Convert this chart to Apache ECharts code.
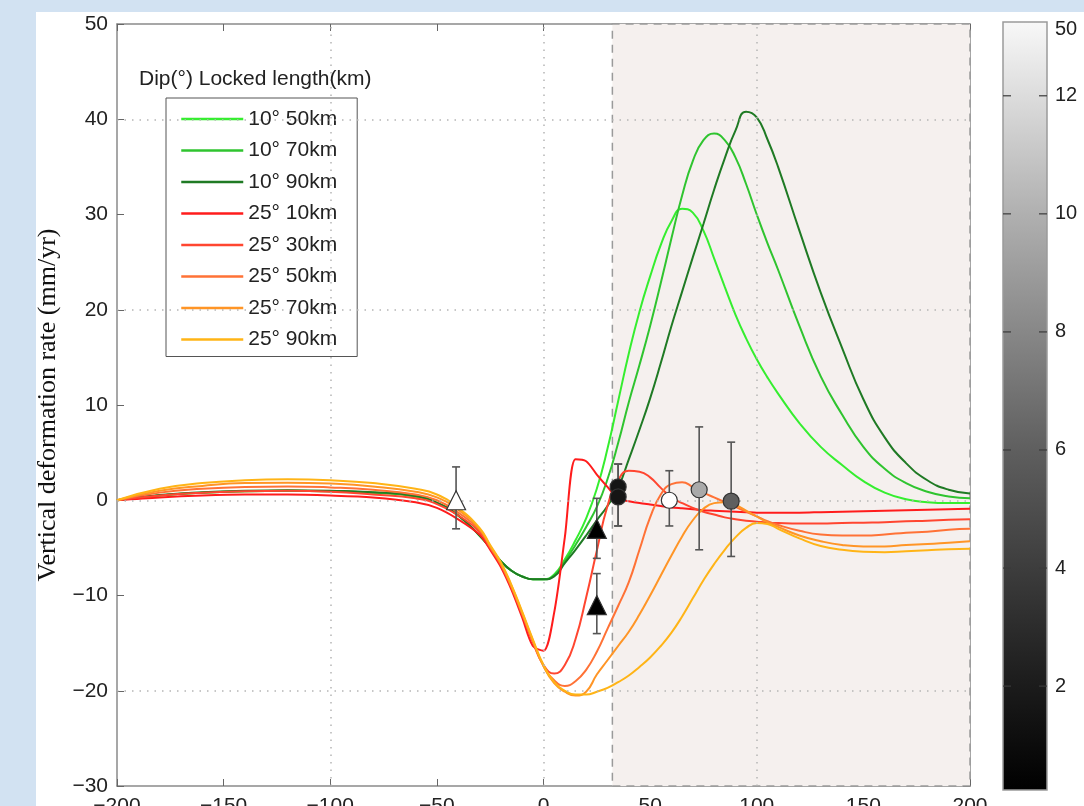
<!DOCTYPE html>
<html>
<head>
<meta charset="utf-8">
<title>Vertical deformation rate</title>
<script src="https://cdn.jsdelivr.net/npm/echarts@6.0.0/dist/echarts.min.js"></script>
<style>
  html, body { margin: 0; padding: 0; background: #d2e2f2; }
  #paper { position: absolute; left: 36px; top: 12px; width: 1048px; height: 794px; background: #fff; }
  #chart { position: absolute; left: 0; top: 0; width: 1084px; height: 806px; }
</style>
</head>
<body>
<div id="paper"></div>
<div id="chart"></div>
<script>
// distance along profile (km), shared by all model curves
const xKm = [-200, -180, -160, -140, -120, -100, -80, -60, -50, -40, -30, -25, -20, -15, -10, -5, 0,
  5, 10, 15, 20, 25, 30, 35, 40, 45, 50, 55, 60, 65, 70, 75, 80, 85, 90, 95, 100, 105, 110,
  120, 130, 140, 150, 160, 170, 180, 190, 200];

// model curves (mm/yr), dip 10°
const g10_50 = [0, 0.5, 0.8, 0.95, 1.0, 0.95, 0.8, 0.4, -0.3, -1.6, -3.7, -5.0, -6.4, -7.4, -8.0, -8.3, -8.3,
  -7.8, -6.2, -4.2, -1.9, 1.2, 5.4, 10.4, 15.4, 19.8, 23.5, 26.8, 29.3, 30.6, 30.2, 28.3, 25.4, 22.4, 19.5, 17.0, 14.8, 12.9, 11.2,
  8.1, 5.6, 3.7, 2.0, 0.8, 0.1, -0.2, -0.3, -0.3];
const g10_70 = [0, 0.5, 0.8, 0.95, 1.0, 0.95, 0.8, 0.4, -0.3, -1.6, -3.7, -5.0, -6.4, -7.4, -8.0, -8.3, -8.3,
  -7.9, -6.4, -4.7, -2.8, -0.7, 2.2, 6.0, 10.3, 14.2, 18.3, 22.8, 27.5, 32.0, 35.6, 37.8, 38.5, 37.8, 36.0, 33.2, 30.0, 27.0, 24.2,
  18.3, 13.0, 9.0, 5.6, 3.3, 1.8, 0.9, 0.4, 0.2];
const g10_90 = [0, 0.55, 0.85, 1.0, 1.05, 1.0, 0.85, 0.45, -0.25, -1.6, -3.7, -5.0, -6.4, -7.4, -8.0, -8.3, -8.3,
  -8.0, -6.6, -5.2, -3.7, -2.1, -0.6, 1.3, 4.3, 7.4, 10.7, 14.4, 18.3, 21.9, 25.5, 29.0, 32.6, 35.9, 38.8, 40.8, 40.2, 37.9, 35.0,
  28.3, 21.8, 16.0, 10.6, 6.6, 3.9, 2.1, 1.1, 0.7];

// model curves (mm/yr), dip 25°
const r25_10 = [0, 0.3, 0.5, 0.6, 0.6, 0.5, 0.3, -0.2, -0.8, -2.0, -3.6, -5.2, -7.0, -9.4, -12.3, -15.3, -15.8,
  -11.8, -3.9, 4.3, 4.1, 2.7, 1.4, 0.15, -0.1, -0.3, -0.45, -0.6, -0.75, -0.85, -0.95, -1.05, -1.1, -1.15, -1.2, -1.25, -1.3, -1.3, -1.3,
  -1.3, -1.25, -1.2, -1.15, -1.1, -1.05, -1.0, -0.95, -0.9];
const r25_30 = [0, 0.5, 0.8, 0.95, 1.0, 0.9, 0.6, 0.2, -0.4, -1.6, -3.3, -5.0, -6.8, -9.2, -12.0, -14.9, -17.3,
  -18.2, -17.3, -14.6, -10.2, -5.3, -0.6, 2.1, 3.1, 3.0, 2.4, 1.3, 0.3, -0.3, -0.8, -1.2, -1.5, -1.8, -2.0, -2.15, -2.25, -2.35, -2.4,
  -2.45, -2.45, -2.4, -2.35, -2.3, -2.2, -2.15, -2.05, -2.0];
const r25_50 = [0, 0.8, 1.2, 1.4, 1.45, 1.35, 1.1, 0.6, 0.0, -1.3, -3.1, -4.9, -6.7, -9.1, -11.9, -14.8, -17.4,
  -18.9, -19.5, -19.0, -17.8, -15.9, -13.5, -11.1, -8.6, -5.2, -1.8, 0.6, 1.7, 1.9, 1.4, 0.8, 0.3, -0.2, -0.7, -1.2, -1.7, -2.2, -2.6,
  -3.2, -3.6, -3.7, -3.7, -3.6, -3.4, -3.3, -3.1, -3.0];
const r25_70 = [0, 1.0, 1.5, 1.8, 1.85, 1.75, 1.45, 0.9, 0.3, -1.0, -3.0, -4.8, -6.6, -9.0, -11.8, -14.7, -17.4,
  -19.2, -20.1, -20.5, -20.1, -18.3, -16.8, -15.3, -13.8, -12.0, -10.0, -7.9, -5.8, -3.8, -2.1, -0.9, -0.3, -0.2, -0.5, -1.1, -1.7, -2.3, -2.8,
  -3.7, -4.3, -4.7, -4.85, -4.85, -4.7, -4.6, -4.45, -4.3];
const r25_90 = [0, 1.2, 1.8, 2.1, 2.2, 2.1, 1.8, 1.2, 0.6, -0.8, -2.9, -4.7, -6.5, -8.9, -11.7, -14.6, -17.3,
  -19.1, -20.0, -20.4, -20.4, -20.1, -19.7, -19.1, -18.4, -17.5, -16.5, -15.3, -13.9, -12.2, -10.3, -8.4, -6.7, -5.2, -3.9, -2.9, -2.4, -2.5, -3.0,
  -4.0, -4.8, -5.2, -5.4, -5.45, -5.35, -5.25, -5.15, -5.1];

const curveNames = ['10° 50km', '10° 70km', '10° 90km', '25° 10km', '25° 30km', '25° 50km', '25° 70km', '25° 90km'];
const curveValues = [g10_50, g10_70, g10_90, r25_10, r25_30, r25_50, r25_70, r25_90];
const curveColors = ['#35ee2f', '#2fc42f', '#1f7a24', '#ff1c1c', '#ff4630', '#ff7236', '#ff9526', '#ffb416'];
const curveSmooth = [0.5, 0.5, 0.5, 0.3, 0.5, 0.5, 0.5, 0.5];

// observed rates with error bars
const ptX = [-41, 25, 25, 35, 35, 59, 73, 88];
const ptY = [0.0, -3.0, -11.0, 1.4, 0.35, 0.0, 1.1, -0.1];
const ptLo = [-3.0, -6.1, -14.0, -2.7, -2.7, -2.7, -5.2, -5.9];
const ptHi = [3.5, 0.2, -7.7, 3.8, 3.8, 3.1, 7.7, 6.1];
const ptShape = ['triangle', 'triangle', 'triangle', 'circle', 'circle', 'circle', 'circle', 'circle'];
const ptFill = ['#ffffff', '#000000', '#000000', '#151515', '#151515', '#ffffff', '#a9a9a9', '#5f5f5f'];

// onshore zone, grid lines, text
const coastKm = 32.3;
const gridXKm = [-100, 0, 100];
const gridYRate = [-20, 0, 20, 40];
const annoX = [-107, 120];
const annoY = [-25.8, -25.8];
const annoText = ['Offshore', 'Onshore'];

// colour bar
const cbMin = 0.24;
const cbMax = 13.25;
const cbTicks = [2, 4, 6, 8, 10, 12];
const cbLabelPos = [2, 4, 6, 8, 10, 12, 13.12];
const cbLabelText = ['2', '4', '6', '8', '10', '12', '50'];

const SANS = '"Liberation Sans", Arial, Helvetica, sans-serif';
const SERIF = '"Liberation Serif", "Times New Roman", serif';
const AXIS_GRAY = '#8a8a8a';
const minus = v => String(v).replace('-', '\u2212');

const chart = echarts.init(document.getElementById('chart'), null, { renderer: 'canvas' });

const lineSeries = curveValues.map((vals, k) => ({
  name: curveNames[k],
  type: 'line',
  xAxisIndex: 0,
  yAxisIndex: 0,
  data: xKm.map((x, i) => [x, vals[i]]),
  symbol: 'none',
  smooth: curveSmooth[k],
  lineStyle: { color: curveColors[k], width: 2 },
  itemStyle: { color: curveColors[k] },
  z: 3,
}));

const frameAxis = (pos, extra) => Object.assign({
  type: 'value',
  position: pos,
  axisLine: { onZero: false, lineStyle: { color: AXIS_GRAY, width: 1.5 } },
  axisTick: { inside: true, length: 7, lineStyle: { color: '#666' } },
  axisLabel: { show: false },
  splitLine: { show: false },
}, extra);

const option = {
  animation: false,
  backgroundColor: 'transparent',
  textStyle: { fontFamily: SANS },
  title: {
    text: 'Dip(°) Locked length(km)',
    left: 134,
    top: 64,
    textStyle: { fontSize: 21, fontWeight: 'normal', color: '#222', fontFamily: SANS },
  },
  legend: {
    orient: 'vertical',
    left: 166,
    top: 98,
    data: curveNames,
    itemWidth: 62,
    itemHeight: 14,
    itemGap: 7.5,
    padding: [9, 20, 5, 14],
    backgroundColor: '#fff',
    borderColor: '#555',
    borderWidth: 1,
    itemStyle: { opacity: 0 },
    lineStyle: { width: 2.5 },
    textStyle: { fontSize: 21, color: '#222', lineHeight: 24, fontFamily: SANS },
  },
  grid: [
    { left: 117, top: 24, width: 853, height: 762, outerBoundsMode: 'none', containLabel: false },
    { left: 1003, top: 22, width: 44, height: 768, outerBoundsMode: 'none', containLabel: false },
  ],
  xAxis: [
    frameAxis('bottom', {
      gridIndex: 0, min: -200, max: 200, interval: 50,
      axisLabel: { show: true, margin: 10, fontSize: 21, color: '#222', formatter: minus },
    }),
    frameAxis('top', { gridIndex: 0, min: -200, max: 200, interval: 50 }),
    { gridIndex: 1, type: 'value', min: 0, max: 1, show: false },
  ],
  yAxis: [
    frameAxis('left', {
      gridIndex: 0, min: -30, max: 50, interval: 10,
      name: 'Vertical deformation rate (mm/yr)',
      nameLocation: 'middle',
      nameGap: 54,
      nameTextStyle: { fontSize: 26, color: '#111', fontFamily: SERIF },
      axisLabel: { show: true, margin: 9, fontSize: 21, color: '#222', formatter: minus },
    }),
    frameAxis('right', { gridIndex: 0, min: -30, max: 50, interval: 10 }),
    {
      gridIndex: 1, type: 'value', position: 'right', min: cbMin, max: cbMax,
      axisLine: { show: false },
      axisTick: { show: false },
      axisLabel: {
        margin: 8, fontSize: 20, color: '#222', customValues: cbLabelPos,
        formatter: v => {
          let best = 0;
          cbLabelPos.forEach((p, i) => { if (Math.abs(p - v) < Math.abs(cbLabelPos[best] - v)) best = i; });
          return cbLabelText[best];
        },
      },
      splitLine: { show: false },
    },
  ],
  series: [
    // onshore shaded zone
    {
      type: 'line', xAxisIndex: 0, yAxisIndex: 0, data: [], z: 1, silent: true,
      markArea: {
        silent: true,
        label: { show: false },
        itemStyle: { color: '#f5f0ee', borderColor: '#9a9a9a', borderWidth: 1.5, borderType: [8, 6] },
        data: [[{ xAxis: coastKm }, { xAxis: 200 }]],
      },
    },
    // dotted grid
    {
      type: 'line', xAxisIndex: 0, yAxisIndex: 0, data: [], z: 2, silent: true,
      markLine: {
        silent: true,
        symbol: ['none', 'none'],
        label: { show: false },
        lineStyle: { color: '#b5b5b5', type: [1.5, 6], width: 1.5 },
        data: gridXKm.map(v => ({ xAxis: v })).concat(gridYRate.map(v => ({ yAxis: v }))),
      },
    },
    ...lineSeries,
    // error bars
    {
      type: 'custom', xAxisIndex: 0, yAxisIndex: 0, z: 4, silent: true,
      data: ptX.map((x, i) => [x, ptLo[i], ptHi[i]]),
      encode: { x: 0, y: [1, 2] },
      renderItem: (params, api) => {
        const top = api.coord([api.value(0), api.value(2)]);
        const bot = api.coord([api.value(0), api.value(1)]);
        const w = 4;
        const style = { stroke: '#555', lineWidth: 1.6 };
        return {
          type: 'group',
          children: [
            { type: 'line', shape: { x1: top[0], y1: top[1], x2: bot[0], y2: bot[1] }, style },
            { type: 'line', shape: { x1: top[0] - w, y1: top[1], x2: top[0] + w, y2: top[1] }, style },
            { type: 'line', shape: { x1: bot[0] - w, y1: bot[1], x2: bot[0] + w, y2: bot[1] }, style },
          ],
        };
      },
    },
    // observation markers
    {
      type: 'scatter', xAxisIndex: 0, yAxisIndex: 0, z: 5, silent: true,
      data: ptX.map((x, i) => ({
        value: [x, ptY[i]],
        symbol: ptShape[i],
        symbolSize: ptShape[i] === 'triangle' ? 19 : 16,
        itemStyle: { color: ptFill[i], borderColor: '#333', borderWidth: 1.2, opacity: 1 },
      })),
    },
    // Offshore / Onshore labels
    {
      type: 'scatter', xAxisIndex: 0, yAxisIndex: 0, z: 5, silent: true,
      symbolSize: 1,
      itemStyle: { opacity: 0 },
      data: annoX.map((x, i) => [x, annoY[i]]),
      label: {
        show: true, position: 'inside',
        formatter: p => annoText[p.dataIndex],
        fontSize: 25, color: '#111', fontFamily: SERIF,
      },
    },
    // colour bar body
    {
      type: 'custom', xAxisIndex: 2, yAxisIndex: 2, z: 1, silent: true,
      data: [[0.5, cbMin]],
      renderItem: (params) => {
        const cs = params.coordSys;
        return {
          type: 'rect',
          shape: { x: cs.x, y: cs.y, width: cs.width, height: cs.height },
          style: {
            fill: new echarts.graphic.LinearGradient(0, 0, 0, 1, [
              { offset: 0, color: '#f8f8f8' },
              { offset: 0.25, color: '#b0b0b0' },
              { offset: 0.56, color: '#5e5e5e' },
              { offset: 0.86, color: '#1c1c1c' },
              { offset: 1, color: '#000000' },
            ]),
            stroke: '#9a9a9a',
            lineWidth: 1.5,
          },
        };
      },
    },
    // colour bar ticks, both edges
    {
      type: 'custom', xAxisIndex: 2, yAxisIndex: 2, z: 2, silent: true,
      data: cbTicks.map(v => [0.5, v]),
      renderItem: (params, api) => {
        const cs = params.coordSys;
        const y = api.coord([0.5, api.value(1)])[1];
        const style = { stroke: '#3a3a3a', lineWidth: 1.2 };
        return {
          type: 'group',
          children: [
            { type: 'line', shape: { x1: cs.x, y1: y, x2: cs.x + 8, y2: y }, style },
            { type: 'line', shape: { x1: cs.x + cs.width - 8, y1: y, x2: cs.x + cs.width, y2: y }, style },
          ],
        };
      },
    },
  ],
};

chart.setOption(option);
</script>
</body>
</html>
